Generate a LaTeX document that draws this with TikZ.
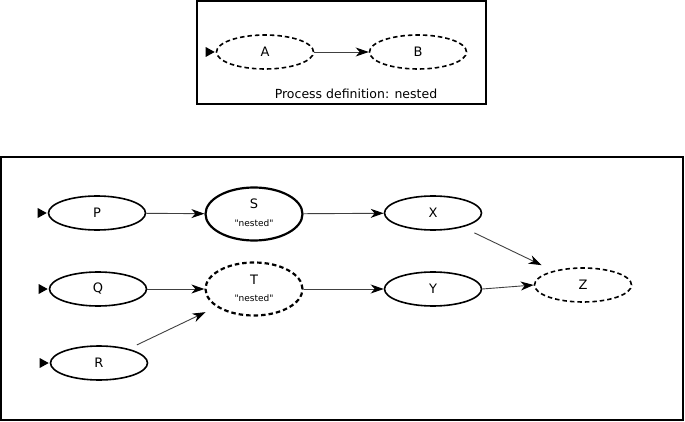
\documentclass[tikz,border=0pt]{standalone}
\usepackage{fontspec}
\setmainfont{DejaVu Sans}
\newfontfamily\subfont{DejaVu Sans}[Ligatures=TeXOff]
\usetikzlibrary{shapes.geometric,arrows.meta}
\begin{document}
\begin{tikzpicture}[x=1pt,y=-1pt,
  st/.style={ellipse,draw=black,line width=1.6pt,minimum width=97pt,minimum height=34pt,inner sep=0pt,font=\fontsize{13}{15}\selectfont},
  stdash/.style={st,dashed,dash pattern=on 4.5pt off 3pt},
  bigst/.style={st,line width=2.2pt,minimum height=53pt},
  frame/.style={draw=black,line width=1.6pt},
  flow/.style={draw=black!75,line width=0.9pt,-{Stealth[length=13pt,width=9pt,inset=4pt,black]}},
  startmark/.style={fill=black,draw=none},
  sub/.style={font=\subfont\fontsize{9}{10}\selectfont}]
\useasboundingbox (0,0) rectangle (685,422);
% top frame
\draw[frame] (197,1) rectangle (486,104);
\node[stdash] (A) at (265,52) {A};
\node[stdash] (B) at (418,52) {B};
\node[font=\fontsize{12.5}{14}\selectfont] (cap) at (356,94) {Process definition: nested};
\draw[flow] (A) -- (B);
% bottom frame
\draw[frame] (1,157) rectangle (683,420);
\node[st] (P) at (97,213) {P};
\node[bigst] (S) at (254,214) {};
\node (Sl) at (254,204) {\fontsize{13}{15}\selectfont S};
\node[sub] (Ss) at (254,223) {"nested"};
\node[st] (X) at (433,213) {X};
\node[st] (Q) at (98,289) {Q};
\node[bigst,dashed,dash pattern=on 4.5pt off 3pt] (T) at (254,289) {};
\node (Tl) at (254,280) {\fontsize{13}{15}\selectfont T};
\node[sub] (Ts) at (254,298) {"nested"};
\node[st] (Y) at (433,289) {Y};
\node[stdash] (Z) at (583,285) {Z};
\node[st] (R) at (99,363) {R};
% start markers
\foreach \n in {A,P,Q,R}{
  \fill[startmark] ([xshift=-1pt]\n.west) -- ++(-9,-5) -- ++(0,10) -- cycle;
}
% connectors
\draw[flow] (P) -- (S);
\draw[flow] (S) -- (X);
\draw[flow] (Q) -- (T);
\draw[flow] (T) -- (Y);
\draw[flow] (Y.east) -- (Z.west);
\draw[flow,shorten <=9pt,shorten >=12pt] (R) -- (T);
\draw[flow,shorten <=13pt,shorten >=13pt] (X) -- (Z);
\end{tikzpicture}
\end{document}
